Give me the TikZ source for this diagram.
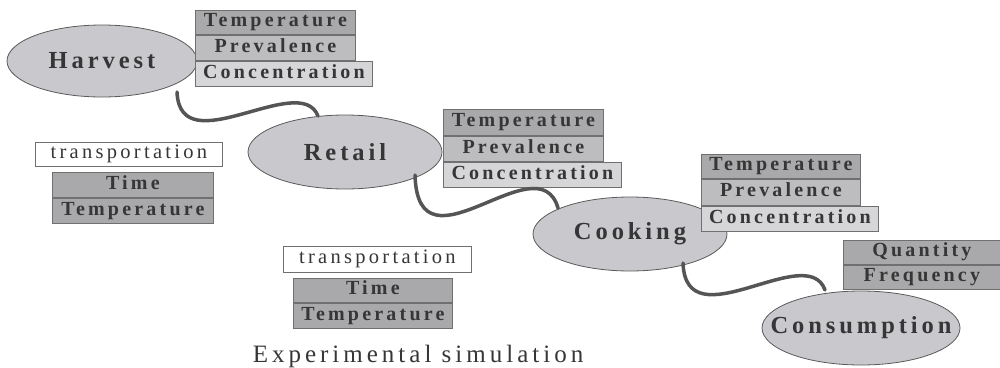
\documentclass[tikz,border=0pt]{standalone}
\usepackage{fontspec}
\setmainfont{Liberation Serif}[LetterSpace=16]
\usetikzlibrary{shapes.geometric}
\definecolor{gdark}{HTML}{A9A9AB}
\definecolor{gmid}{HTML}{BDBDBF}
\definecolor{glight}{HTML}{D6D6D9}
\definecolor{ellfill}{HTML}{C9C9CD}
\definecolor{bord}{HTML}{707070}
\definecolor{edge}{HTML}{5A5A5A}
\definecolor{wirec}{HTML}{555555}
\definecolor{txt}{HTML}{363636}
\tikzset{
 lbl/.style={font=\bfseries\fontsize{20}{21}\selectfont, text=txt, draw=bord, line width=0.8pt, inner sep=0pt, minimum height=25pt, text height=13.5pt, text depth=4.5pt, anchor=north west},
 dark/.style={lbl, fill=gdark},
 mid/.style={lbl, fill=gmid},
 light/.style={lbl, fill=glight},
 trans/.style={font=\fontsize{20.5}{22}\selectfont, text=txt, draw=bord, fill=white, line width=0.8pt, inner sep=0pt, minimum height=24pt, text height=13.5pt, text depth=4.5pt, anchor=north west},
 stage/.style={ellipse, draw=edge, fill=ellfill, line width=0.8pt, inner sep=0pt, minimum width=192pt, minimum height=73pt, font=\bfseries\fontsize{24.5}{26}\selectfont, text=txt},
 wire/.style={draw=wirec, line width=3.5pt, line cap=round},
}
\begin{document}
\begin{tikzpicture}[x=1pt,y=-1pt]
\useasboundingbox (0,0) rectangle (1000,367);
% stages
\node[stage, minimum width=190pt, minimum height=72pt] (harvest) at (102,61) {Harvest};
\node[stage, minimum width=194pt, minimum height=74pt] (retail) at (345,152) {Retail};
\node[stage, minimum width=194pt, minimum height=74pt] (cooking) at (630,234) {Cooking};
\node[stage, minimum width=198pt, minimum height=74pt, inner xsep=-30pt] (consumption) at (861,328) {Consumption};
% harvest boxes
\node[dark, minimum width=160pt, minimum height=24pt] (h-t) at (195,10) {Temperature};
\node[mid, minimum width=160pt] (h-p) at (h-t.south west) {Prevalence};
\node[light, minimum width=177pt] (h-c) at (h-p.south west) {Concentration};
% retail boxes
\node[dark, minimum width=160pt, minimum height=26pt] (r-t) at (443,109) {Temperature};
\node[mid, minimum width=160pt] (r-p) at (r-t.south west) {Prevalence};
\node[light, minimum width=178pt] (r-c) at (r-p.south west) {Concentration};
% cooking boxes
\node[dark, minimum width=159pt, minimum height=24pt] (c-t) at (701,154) {Temperature};
\node[mid, minimum width=159pt, minimum height=26pt] (c-p) at (c-t.south west) {Prevalence};
\node[light, minimum width=177pt] (c-c) at (c-p.south west) {Concentration};
% consumption boxes
\node[dark, minimum width=157pt, minimum height=24pt] (s-q) at (843,240) {Quantity};
\node[dark, minimum width=157pt, minimum height=24pt] (s-f) at (s-q.south west) {Frequency};
% transportation 1
\node[trans, minimum width=187pt] (tr1) at (35,142) {transportation};
\node[dark, minimum width=161pt] (tr1-t) at (52,172) {Time};
\node[dark, minimum width=161pt] (tr1-p) at (tr1-t.south west) {Temperature};
% transportation 2
\node[trans, minimum width=188pt, minimum height=26pt] (tr2) at (283,246) {transportation};
\node[dark, minimum width=159pt, minimum height=24pt] (tr2-t) at (293,278) {Time};
\node[dark, minimum width=159pt] (tr2-p) at (tr2-t.south west) {Temperature};
% caption
\node[font=\fontsize{25}{27}\selectfont, text=txt, anchor=base, inner sep=0pt] (exp) at (418,362) {Experimental simulation};
% connector end points
\path (harvest.center) ++(75,31) coordinate (h-out);
\path (retail.center) ++(-27,-36) coordinate (r-in);
\path (retail.center) ++(70,23) coordinate (r-out);
\path (cooking.center) ++(-72,-26) coordinate (c-in);
\path (cooking.center) ++(53,29) coordinate (c-out);
\path (consumption.center) ++(-36,-38) coordinate (s-in);
% connectors
\draw[wire] (h-out) .. controls +(3,73) and +(-18,-46) .. (r-in);
\draw[wire] (r-out) .. controls +(3,105) and +(-20,-68) .. (c-in);
\draw[wire] (c-out) .. controls +(3,80) and +(-18,-50) .. (s-in);
\end{tikzpicture}
\end{document}
